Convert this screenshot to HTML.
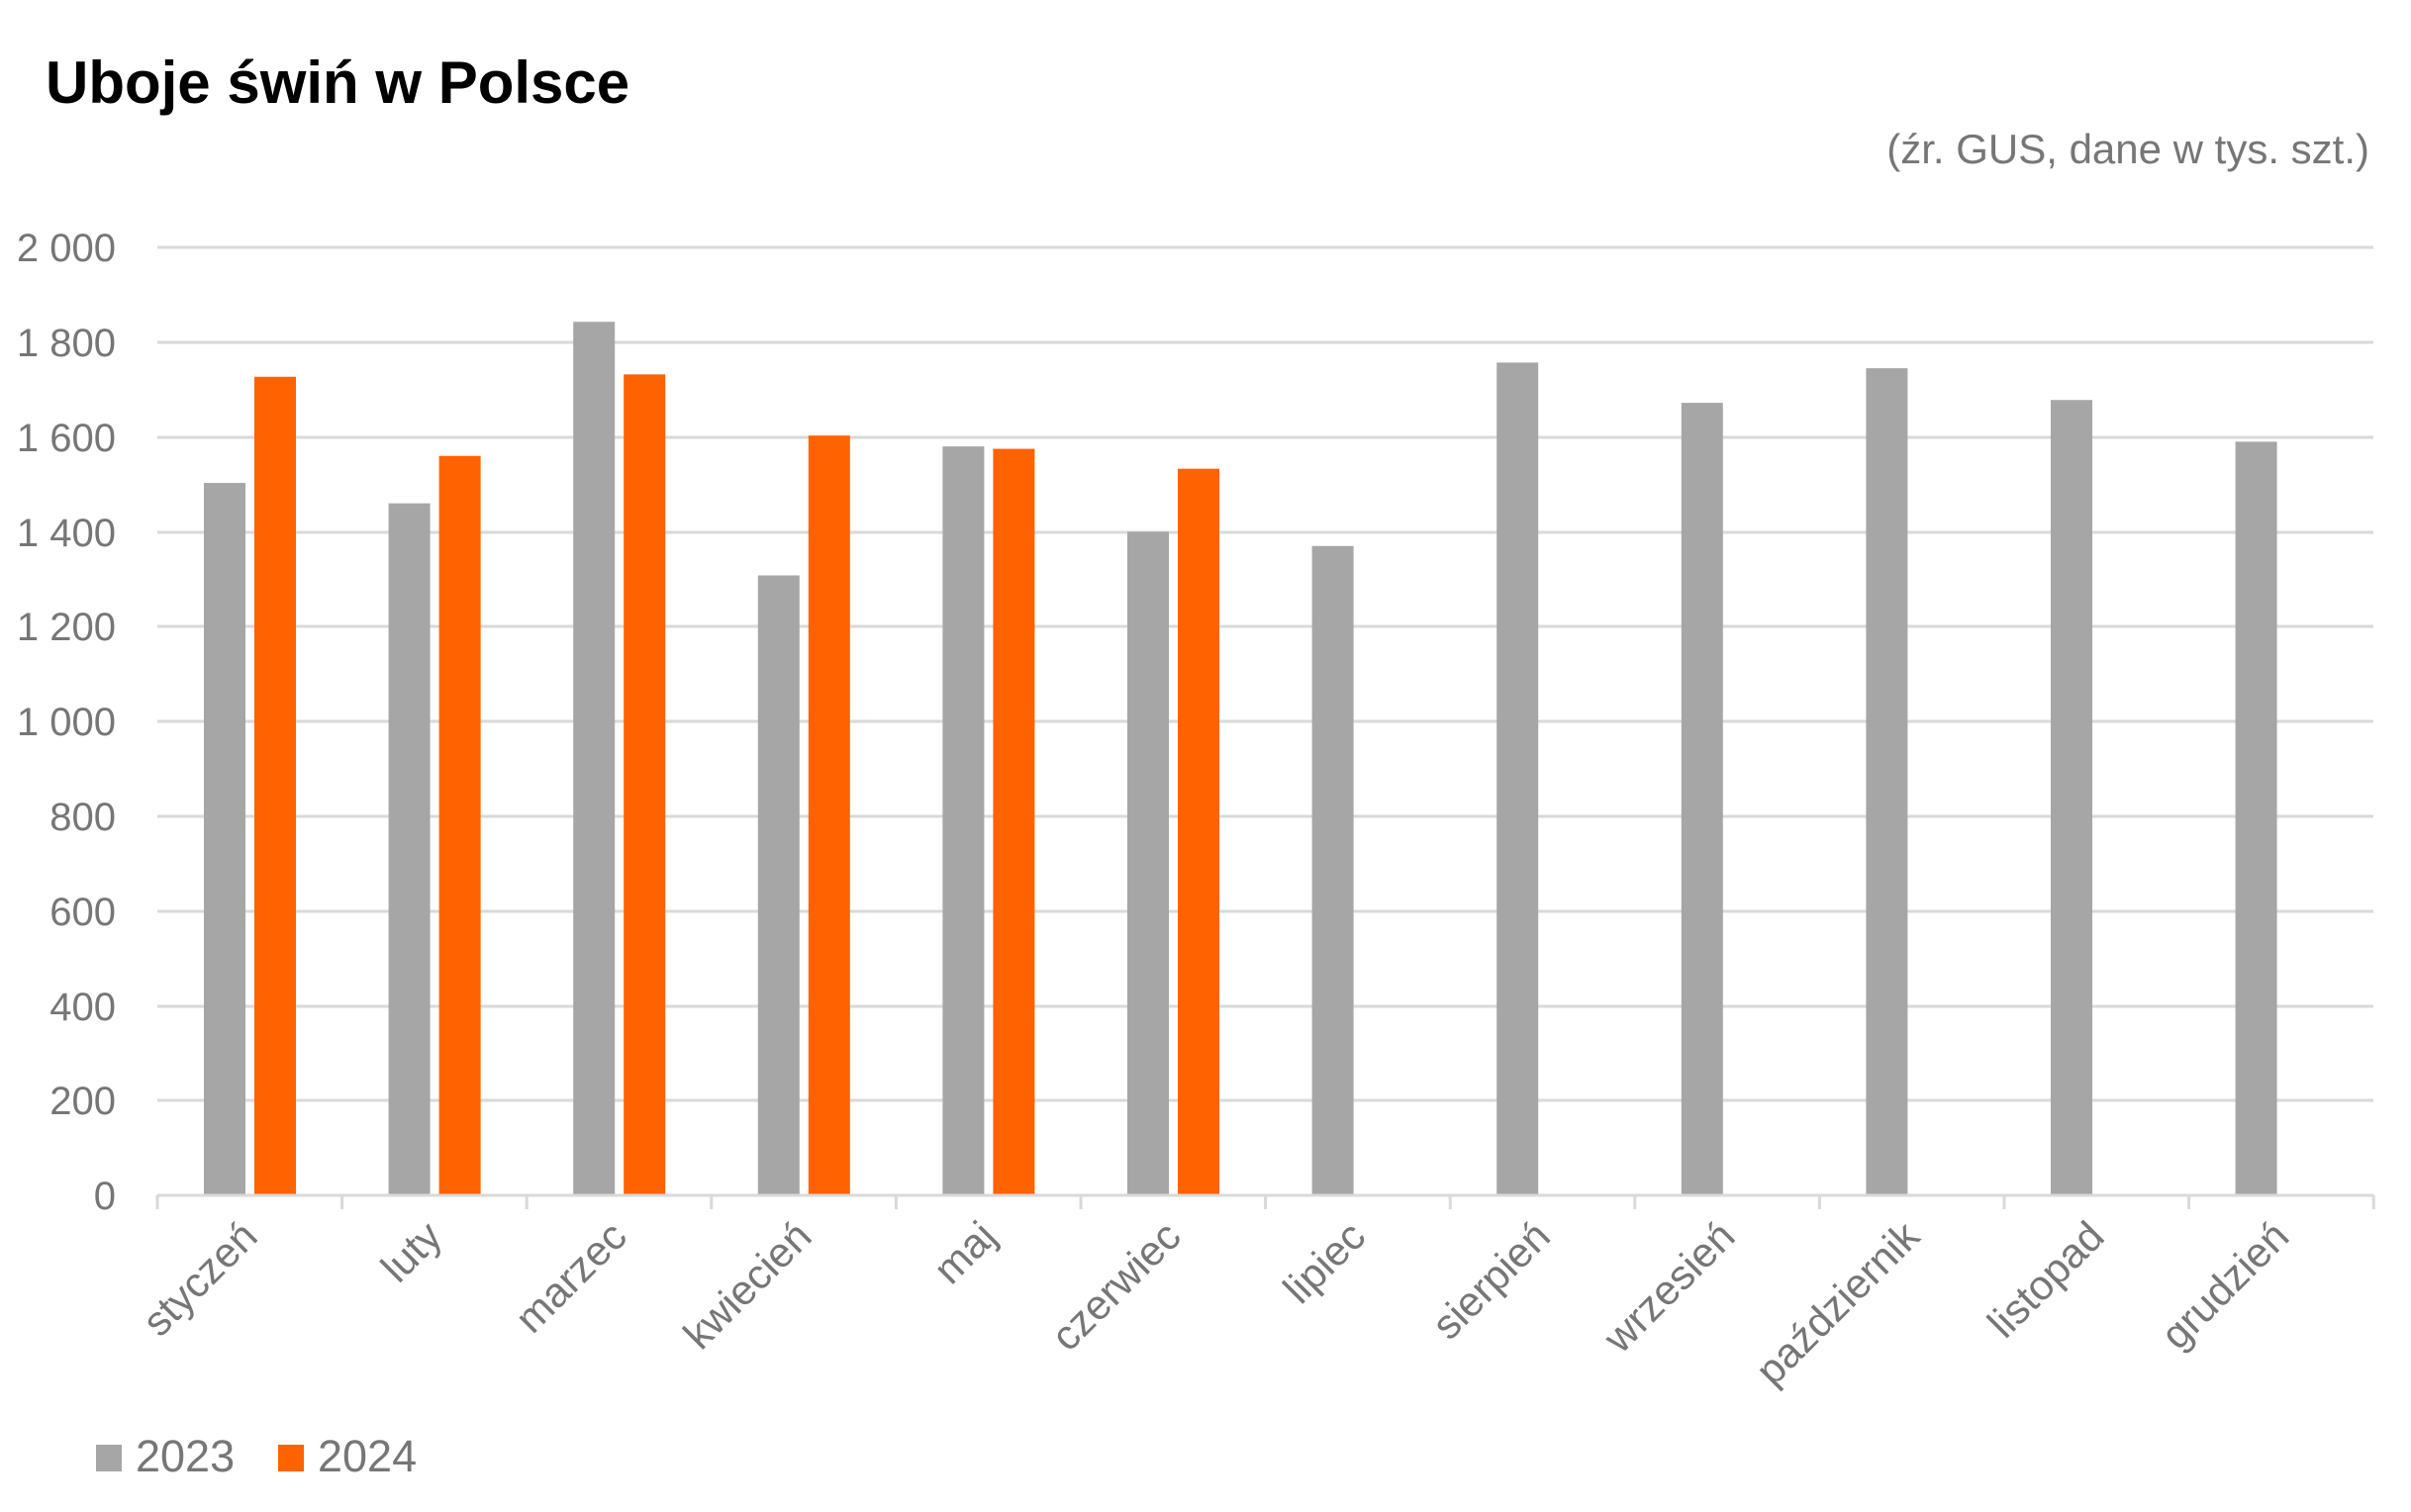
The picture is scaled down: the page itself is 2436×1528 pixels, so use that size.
<!DOCTYPE html>
<html><head><meta charset="utf-8"><style>
html,body{margin:0;padding:0;background:#fff;}
svg{display:block;}
</style></head><body>
<svg width="2436" height="1528" viewBox="0 0 2436 1528" xmlns="http://www.w3.org/2000/svg" font-family="Liberation Sans, DejaVu Sans, sans-serif">
<text x="46" y="104" font-size="60" font-weight="bold" fill="#000">Uboje świń w Polsce</text>
<text x="2394" y="165" font-size="42" fill="#767676" text-anchor="end">(źr. GUS, dane w tys. szt.)</text>
<g stroke="#d9d9d9" stroke-width="3">
<line x1="159" x2="2398" y1="250" y2="250"/>
<line x1="159" x2="2398" y1="346" y2="346"/>
<line x1="159" x2="2398" y1="442" y2="442"/>
<line x1="159" x2="2398" y1="538" y2="538"/>
<line x1="159" x2="2398" y1="633" y2="633"/>
<line x1="159" x2="2398" y1="729" y2="729"/>
<line x1="159" x2="2398" y1="825" y2="825"/>
<line x1="159" x2="2398" y1="921" y2="921"/>
<line x1="159" x2="2398" y1="1017" y2="1017"/>
<line x1="159" x2="2398" y1="1112" y2="1112"/>
</g>
<g fill="#767676" font-size="40" text-anchor="end">
<text x="117" y="264">2 000</text>
<text x="117" y="360">1 800</text>
<text x="117" y="456">1 600</text>
<text x="117" y="552">1 400</text>
<text x="117" y="647">1 200</text>
<text x="117" y="743">1 000</text>
<text x="117" y="839">800</text>
<text x="117" y="935">600</text>
<text x="117" y="1031">400</text>
<text x="117" y="1126">200</text>
<text x="117" y="1222">0</text>
</g>
<g id="bars"></g>
<g stroke="#d9d9d9" stroke-width="3" id="ticks"></g>
<g fill="#767676" font-size="42" id="labels"></g>
<rect x="97" y="1460" width="26" height="27" fill="#a6a6a6"/>
<text x="137" y="1487" font-size="45" fill="#767676">2023</text>
<rect x="281" y="1460" width="26" height="27" fill="#ff6200"/>
<text x="321" y="1487" font-size="45" fill="#767676">2024</text>
<script>
var a=[1503,1460,1843,1308,1580,1400,1370,1757,1672,1745,1678,1590];
var b=[1727,1560,1732,1603,1575,1533];
var m=["styczeń","luty","marzec","kwiecień","maj","czerwiec","lipiec","sierpień","wrzesień","październik","listopad","grudzień"];
var ns="http://www.w3.org/2000/svg",L=159,W=186.6,Z=1208,K=0.479;
function el(t,at,p){var e=document.createElementNS(ns,t);for(var k in at)e.setAttribute(k,at[k]);p.appendChild(e);return e;}
var g=document.getElementById("bars"),tk=document.getElementById("ticks"),lb=document.getElementById("labels");
for(var i=0;i<12;i++){var x=L+i*W;
el("rect",{x:x+47,y:Z-a[i]*K,width:42,height:a[i]*K,fill:"#a6a6a6"},g);
if(i<6)el("rect",{x:x+98,y:Z-b[i]*K,width:42,height:b[i]*K,fill:"#ff6200"},g);
var cx=x+W/2+10,cy=1252;
var t=el("text",{x:cx,y:cy,"text-anchor":"end",transform:"rotate(-45 "+cx+" "+cy+")"},lb);t.textContent=m[i];}
el("line",{x1:L,x2:L+12*W,y1:Z,y2:Z},tk);
for(var i=0;i<=12;i++){var x=L+i*W;el("line",{x1:x,x2:x,y1:Z,y2:Z+14},tk);}
</script>
</svg>
</body></html>
